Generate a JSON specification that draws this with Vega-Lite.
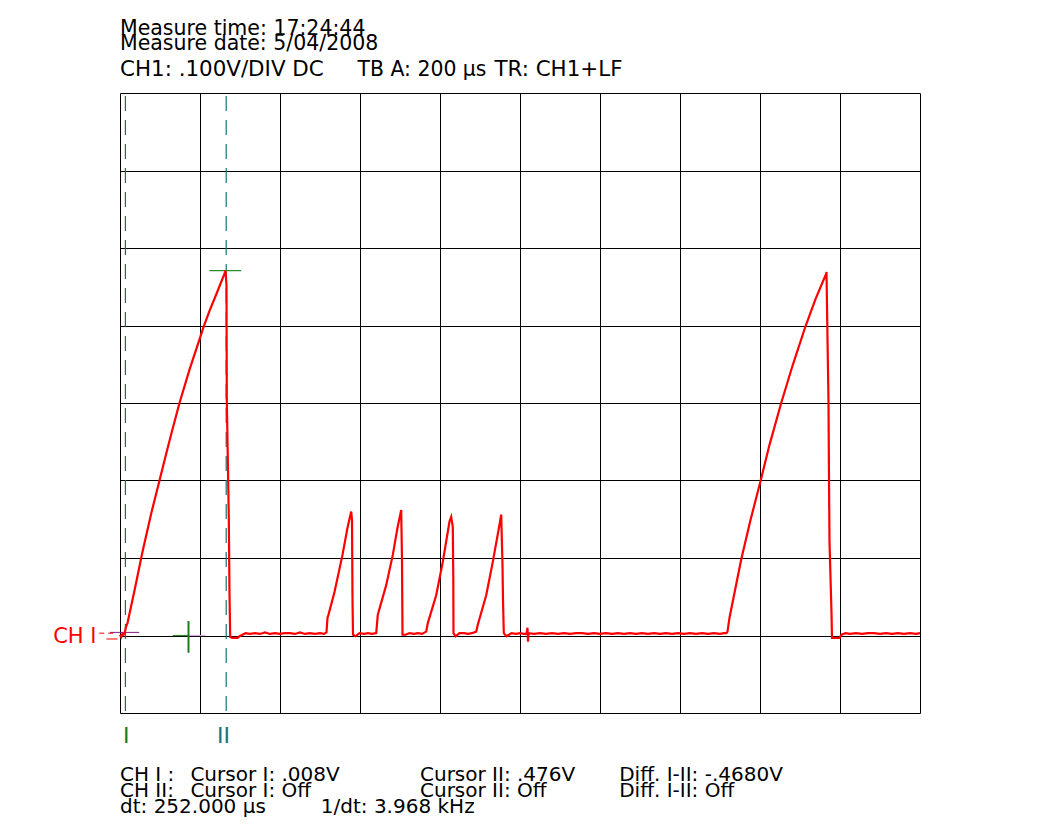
{
  "$schema": "https://vega.github.io/schema/vega-lite/v6.json",
  "description": "Oscilloscope capture, CH1 trace with cursors",
  "width": 800,
  "height": 620,
  "autosize": {"type": "none"},
  "padding": {"left": 120, "top": 93, "right": 121, "bottom": 125},
  "background": "white",
  "config": {
    "view": {"stroke": "black", "strokeWidth": 1},
    "text": {"font": "DejaVu Sans", "fontSize": 20, "color": "black", "align": "left", "baseline": "alphabetic"}
  },
  "data": {
    "values": [
      {"t": 0, "v": 0.001}, {"t": 3, "v": -0.002}, {"t": 6, "v": 0.002}, {"t": 9, "v": 0.001},
      {"t": 12, "v": 0.004}, {"t": 15, "v": 0.011}, {"t": 18.75, "v": 0.016}, {"t": 36.25, "v": 0.058},
      {"t": 56.25, "v": 0.108}, {"t": 78.75, "v": 0.159}, {"t": 98.75, "v": 0.200}, {"t": 116.25, "v": 0.236},
      {"t": 131.25, "v": 0.266}, {"t": 148.75, "v": 0.300}, {"t": 173.75, "v": 0.343}, {"t": 198.75, "v": 0.382},
      {"t": 208.75, "v": 0.398}, {"t": 223.75, "v": 0.419}, {"t": 240.5, "v": 0.440}, {"t": 261.25, "v": 0.467},
      {"t": 263.75, "v": 0.471}, {"t": 266.25, "v": 0.452}, {"t": 267, "v": 0.304}, {"t": 272, "v": 0.153},
      {"t": 273.75, "v": 0.055}, {"t": 275.5, "v": -0.002}, {"t": 281.25, "v": -0.003}, {"t": 293.75, "v": -0.003},
      {"t": 298.75, "v": -0.001}, {"t": 306.25, "v": 0.001}, {"t": 313.75, "v": 0.003}, {"t": 325, "v": 0.002},
      {"t": 337.5, "v": 0.003}, {"t": 350, "v": 0.002}, {"t": 362.5, "v": 0.004}, {"t": 375, "v": 0.002},
      {"t": 387.5, "v": 0.003}, {"t": 400, "v": 0.002}, {"t": 412.5, "v": 0.003}, {"t": 425, "v": 0.003},
      {"t": 437.5, "v": 0.002}, {"t": 450, "v": 0.004}, {"t": 462.5, "v": 0.002}, {"t": 475, "v": 0.003},
      {"t": 487.5, "v": 0.002}, {"t": 500, "v": 0.003}, {"t": 510, "v": 0.002},
      {"t": 516.25, "v": 0.004}, {"t": 518.75, "v": 0.023}, {"t": 521.25, "v": 0.027}, {"t": 536.25, "v": 0.056},
      {"t": 556.25, "v": 0.104}, {"t": 568.75, "v": 0.139}, {"t": 578, "v": 0.160}, {"t": 580, "v": 0.149},
      {"t": 581.25, "v": 0.046}, {"t": 582.5, "v": 0.001}, {"t": 588.75, "v": -0.001}, {"t": 598.75, "v": 0.003},
      {"t": 610, "v": 0.002}, {"t": 620, "v": 0.003}, {"t": 630, "v": 0.002},
      {"t": 640.5, "v": 0.003}, {"t": 644.5, "v": 0.027}, {"t": 665.5, "v": 0.065}, {"t": 682, "v": 0.104},
      {"t": 693.75, "v": 0.139}, {"t": 703, "v": 0.162}, {"t": 705, "v": 0.097}, {"t": 706.25, "v": 0.001},
      {"t": 713.75, "v": 0.001}, {"t": 723.75, "v": 0.003}, {"t": 735, "v": 0.002}, {"t": 745, "v": 0.003},
      {"t": 755, "v": 0.002},
      {"t": 765.5, "v": 0.005}, {"t": 769.5, "v": 0.016}, {"t": 790.5, "v": 0.052}, {"t": 807, "v": 0.095},
      {"t": 823.75, "v": 0.147}, {"t": 828, "v": 0.153}, {"t": 832, "v": 0.140}, {"t": 833.25, "v": 0.072},
      {"t": 833.75, "v": 0.003}, {"t": 838.75, "v": -0.001}, {"t": 848.75, "v": 0.003}, {"t": 860, "v": 0.003},
      {"t": 870, "v": 0.002}, {"t": 880, "v": 0.003},
      {"t": 890.5, "v": 0.005}, {"t": 894.5, "v": 0.014}, {"t": 915.5, "v": 0.052}, {"t": 932, "v": 0.095},
      {"t": 948.75, "v": 0.143}, {"t": 953, "v": 0.156}, {"t": 956.25, "v": 0.091}, {"t": 957.5, "v": 0.046},
      {"t": 959.5, "v": 0.003}, {"t": 966.25, "v": -0.001}, {"t": 978.75, "v": 0.003}, {"t": 990, "v": 0.002},
      {"t": 1000, "v": 0.003}, {"t": 1010, "v": 0.002}, {"t": 1016.25, "v": 0.002}, {"t": 1018.75, "v": 0.010},
      {"t": 1020, "v": -0.008}, {"t": 1021.25, "v": 0.003}, {"t": 1035, "v": 0.002}, {"t": 1050, "v": 0.003},
      {"t": 1065, "v": 0.002}, {"t": 1080, "v": 0.003}, {"t": 1095, "v": 0.002}, {"t": 1110, "v": 0.003},
      {"t": 1125, "v": 0.002}, {"t": 1140, "v": 0.003}, {"t": 1155, "v": 0.003}, {"t": 1170, "v": 0.002},
      {"t": 1185, "v": 0.003}, {"t": 1200, "v": 0.002}, {"t": 1215, "v": 0.003}, {"t": 1230, "v": 0.002},
      {"t": 1245, "v": 0.003}, {"t": 1260, "v": 0.002}, {"t": 1275, "v": 0.003}, {"t": 1290, "v": 0.002},
      {"t": 1305, "v": 0.003}, {"t": 1320, "v": 0.002}, {"t": 1335, "v": 0.003}, {"t": 1350, "v": 0.002},
      {"t": 1365, "v": 0.003}, {"t": 1380, "v": 0.002}, {"t": 1395, "v": 0.003}, {"t": 1410, "v": 0.002},
      {"t": 1425, "v": 0.003}, {"t": 1440, "v": 0.002}, {"t": 1455, "v": 0.003}, {"t": 1470, "v": 0.002},
      {"t": 1485, "v": 0.003}, {"t": 1500, "v": 0.002}, {"t": 1510, "v": 0.003},
      {"t": 1516.25, "v": 0.003}, {"t": 1518.75, "v": 0.005}, {"t": 1523.75, "v": 0.023}, {"t": 1553, "v": 0.098},
      {"t": 1576.25, "v": 0.149}, {"t": 1601.25, "v": 0.199}, {"t": 1623.75, "v": 0.246}, {"t": 1653, "v": 0.300},
      {"t": 1681.25, "v": 0.348}, {"t": 1713.75, "v": 0.399}, {"t": 1738.75, "v": 0.434}, {"t": 1765.5, "v": 0.467},
      {"t": 1766.25, "v": 0.469}, {"t": 1768.75, "v": 0.384}, {"t": 1771.25, "v": 0.301}, {"t": 1772.5, "v": 0.201},
      {"t": 1773.75, "v": 0.121}, {"t": 1778.75, "v": 0.029}, {"t": 1780, "v": -0.003}, {"t": 1798.75, "v": -0.003},
      {"t": 1803.75, "v": 0.001}, {"t": 1813.75, "v": 0.003}, {"t": 1825, "v": 0.002}, {"t": 1840, "v": 0.003},
      {"t": 1855, "v": 0.002}, {"t": 1870, "v": 0.003}, {"t": 1885, "v": 0.003}, {"t": 1900, "v": 0.002},
      {"t": 1915, "v": 0.003}, {"t": 1930, "v": 0.002}, {"t": 1945, "v": 0.003}, {"t": 1960, "v": 0.002},
      {"t": 1975, "v": 0.003}, {"t": 1990, "v": 0.002}, {"t": 2000, "v": 0.003}
    ]
  },
  "layer": [
    {
      "mark": {"type": "line", "opacity": 0},
      "encoding": {
        "x": {
          "field": "t", "type": "quantitative",
          "scale": {"domain": [0, 2000], "nice": false, "zero": false},
          "axis": {"values": [200, 400, 600, 800, 1000, 1200, 1400, 1600, 1800], "grid": true, "gridColor": "black", "gridOpacity": 1, "gridWidth": 1, "domain": false, "ticks": false, "labels": false, "title": null}
        },
        "y": {
          "field": "v", "type": "quantitative",
          "scale": {"domain": [-0.1, 0.7], "nice": false, "zero": false},
          "axis": {"values": [0, 0.1, 0.2, 0.3, 0.4, 0.5, 0.6], "grid": true, "gridColor": "black", "gridOpacity": 1, "gridWidth": 1, "domain": false, "ticks": false, "labels": false, "title": null}
        }
      }
    },
    {
      "data": {"values": [{}]},
      "mark": {"type": "rule", "color": "#1d7a1d", "strokeWidth": 1.2, "strokeDash": [15, 9], "strokeDashOffset": -3},
      "encoding": {"x": {"datum": 13.5}}
    },
    {
      "data": {"values": [{}]},
      "mark": {"type": "rule", "color": "#1a7373", "strokeWidth": 1.2, "strokeDash": [15, 9], "strokeDashOffset": -3},
      "encoding": {"x": {"datum": 265.5}}
    },
    {
      "data": {"values": [{}]},
      "mark": {"type": "rule", "color": "#2e8b2e", "strokeWidth": 1.2},
      "encoding": {"x": {"datum": 223.75}, "x2": {"datum": 303}, "y": {"datum": 0.4707}}
    },
    {
      "data": {"values": [{}]},
      "mark": {"type": "rule", "color": "#2e8b2e", "strokeWidth": 1.2},
      "encoding": {"x": {"datum": 132}, "x2": {"datum": 171.25}, "y": {"datum": 0}}
    },
    {
      "data": {"values": [{}]},
      "mark": {"type": "rule", "color": "#d6a6dc", "strokeWidth": 1.2},
      "encoding": {"x": {"datum": 171.25}, "x2": {"datum": 213}, "y": {"datum": 0}}
    },
    {
      "data": {"values": [{}]},
      "mark": {"type": "rule", "color": "#1d7a1d", "strokeWidth": 2},
      "encoding": {"x": {"datum": 171.25}, "y": {"datum": 0.0187}, "y2": {"datum": -0.0222}}
    },
    {
      "data": {"values": [{}]},
      "mark": {"type": "rule", "color": "#8a1a8a", "strokeWidth": 1},
      "encoding": {"x": {"datum": -25}, "x2": {"datum": 48}, "y": {"datum": 0.004}}
    },
    {
      "data": {"values": [{}]},
      "mark": {"type": "rule", "color": "red", "strokeWidth": 1, "strokeDash": [5, 4]},
      "encoding": {"x": {"datum": -52}, "x2": {"datum": -8}, "y": {"datum": 0.003}}
    },
    {
      "data": {"values": [{}]},
      "mark": {"type": "rule", "color": "red", "strokeWidth": 1},
      "encoding": {"x": {"datum": -34}, "x2": {"datum": -6}, "y": {"datum": -0.0045}}
    },
    {
      "mark": {"type": "line", "color": "#ff0000", "strokeWidth": 2.2},
      "encoding": {
        "x": {"field": "t", "type": "quantitative"},
        "y": {"field": "v", "type": "quantitative"}
      }
    },
    {
      "data": {"values": [{"label": ["Measure time: 17:24:44", "Measure date: 5/04/2008"]}]},
      "mark": {"type": "text", "lineHeight": 15, "fontSize": 20.5},
      "encoding": {"x": {"datum": 0}, "y": {"datum": 0.7748}, "text": {"field": "label"}}
    },
    {
      "data": {"values": [{"label": "CH1: .100V/DIV DC"}]},
      "mark": {"type": "text", "fontSize": 21.4},
      "encoding": {"x": {"datum": 0}, "y": {"datum": 0.7219}, "text": {"field": "label"}}
    },
    {
      "data": {"values": [{"label": "TB A: 200 µs"}]},
      "mark": {"type": "text", "fontSize": 20.4},
      "encoding": {"x": {"datum": 594}, "y": {"datum": 0.7219}, "text": {"field": "label"}}
    },
    {
      "data": {"values": [{"label": "TR: CH1+LF"}]},
      "mark": {"type": "text", "fontSize": 21.4},
      "encoding": {"x": {"datum": 936}, "y": {"datum": 0.7219}, "text": {"field": "label"}}
    },
    {
      "data": {"values": [{"label": "CH I"}]},
      "mark": {"type": "text", "color": "red", "fontSize": 21, "align": "right"},
      "encoding": {"x": {"datum": -58.75}, "y": {"datum": -0.0101}, "text": {"field": "label"}}
    },
    {
      "data": {"values": [{"label": "I"}]},
      "mark": {"type": "text", "color": "#1d7a1d", "fontSize": 22, "align": "center"},
      "encoding": {"x": {"datum": 15.5}, "y": {"datum": -0.1383}, "text": {"field": "label"}}
    },
    {
      "data": {"values": [{"label": "II"}]},
      "mark": {"type": "text", "color": "#1a7373", "fontSize": 22, "align": "center"},
      "encoding": {"x": {"datum": 259}, "y": {"datum": -0.1383}, "text": {"field": "label"}}
    },
    {
      "data": {"values": [{"label": ["CH I :", "CH II:", "dt: 252.000 µs"]}]},
      "mark": {"type": "text", "lineHeight": 16},
      "encoding": {"x": {"datum": 0}, "y": {"datum": -0.1877}, "text": {"field": "label"}}
    },
    {
      "data": {"values": [{"label": ["Cursor I: .008V", "Cursor I: Off"]}]},
      "mark": {"type": "text", "lineHeight": 16},
      "encoding": {"x": {"datum": 176}, "y": {"datum": -0.1877}, "text": {"field": "label"}}
    },
    {
      "data": {"values": [{"label": "1/dt: 3.968 kHz"}]},
      "mark": {"type": "text"},
      "encoding": {"x": {"datum": 502}, "y": {"datum": -0.2290}, "text": {"field": "label"}}
    },
    {
      "data": {"values": [{"label": ["Cursor II: .476V", "Cursor II: Off"]}]},
      "mark": {"type": "text", "lineHeight": 16},
      "encoding": {"x": {"datum": 750}, "y": {"datum": -0.1877}, "text": {"field": "label"}}
    },
    {
      "data": {"values": [{"label": ["Diff. I-II: -.4680V", "Diff. I-II: Off"]}]},
      "mark": {"type": "text", "lineHeight": 16},
      "encoding": {"x": {"datum": 1248}, "y": {"datum": -0.1877}, "text": {"field": "label"}}
    }
  ]
}
